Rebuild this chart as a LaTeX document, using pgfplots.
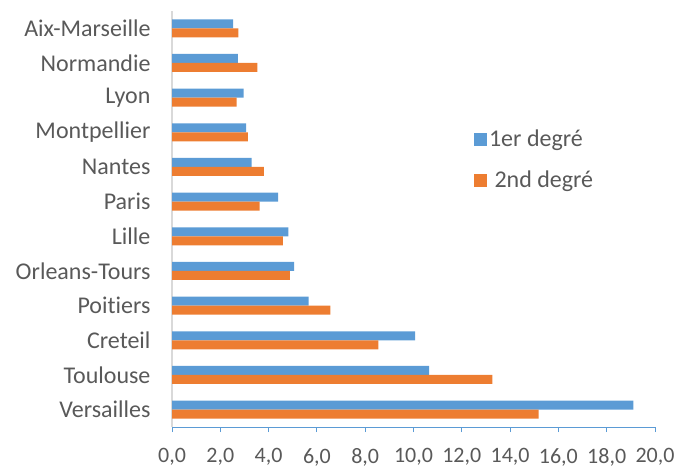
\documentclass[border=0pt]{standalone}
\usepackage{pgfplots}
\pgfplotsset{compat=1.18}
\usepackage{fontspec}
\setmainfont{Carlito}[Ligatures=NoCommon]
\definecolor{cblue}{HTML}{5B9BD5}
\definecolor{corange}{HTML}{ED7D31}
\definecolor{tgray}{HTML}{595959}
\definecolor{lgray}{HTML}{D9D9D9}
\begin{document}
\begin{tikzpicture}[x=1pt,y=1pt]
\begin{axis}[
  at={(172pt,41pt)}, anchor=south west,
  scale only axis, width=483pt, height=416pt,
  xbar, bar width=9pt,
  xmin=0, xmax=20,
  ymin=-0.5, ymax=11.5,
  ytick={0,...,11},
  yticklabels={Versailles,Toulouse,Creteil,Poitiers,Orleans-Tours,Lille,Paris,Nantes,Montpellier,Lyon,Normandie,Aix-Marseille},
  xtick={0,2,...,20},
  xticklabels={{0,0},{2,0},{4,0},{6,0},{8,0},{10,0},{12,0},{14,0},{16,0},{18,0},{20,0}},
  axis x line*=bottom, axis y line*=left,
  x axis line style={draw=cblue, line width=1pt, -},
  y axis line style={draw=lgray, line width=1.5pt, -},
  xtick style={draw=cblue, line width=1pt},
  major x tick style={draw=cblue},
  tick align=outside, major tick length=5pt,
  ytick style={draw=none},
  yticklabel style={font=\fontsize{24}{26}\selectfont, text=tgray, xshift=-13pt},
  xticklabel style={font=\fontsize{22}{24}\selectfont, text=tgray, yshift=-13pt},
  legend style={at={(0.625,0.719)}, anchor=north west, draw=none, fill=none,
    font=\fontsize{24}{26}\selectfont, text=tgray, row sep=19pt, inner sep=0pt,
    /tikz/every even column/.append style={column sep=6pt}},
  legend cell align=left,
  legend image code/.code={\fill[#1] (0pt,-6.5pt) rectangle (13pt,6.5pt);},
]
\addplot[draw=none, fill=cblue, bar shift=4.5pt] coordinates {
 (19.10,0) (10.65,1) (10.07,2) (5.66,3) (5.06,4) (4.82,5) (4.39,6) (3.30,7) (3.07,8) (2.97,9) (2.73,10) (2.53,11)};
\addplot[draw=none, fill=corange, bar shift=-4.5pt] coordinates {
 (15.18,0) (13.27,1) (8.55,2) (6.56,3) (4.88,4) (4.59,5) (3.63,6) (3.80,7) (3.14,8) (2.68,9) (3.54,10) (2.75,11)};
\legend{1er degré,{\ 2nd degré}}
\end{axis}
\pgfresetboundingbox
\path (0pt,0pt) rectangle (676pt,468pt);
\end{tikzpicture}
\end{document}
